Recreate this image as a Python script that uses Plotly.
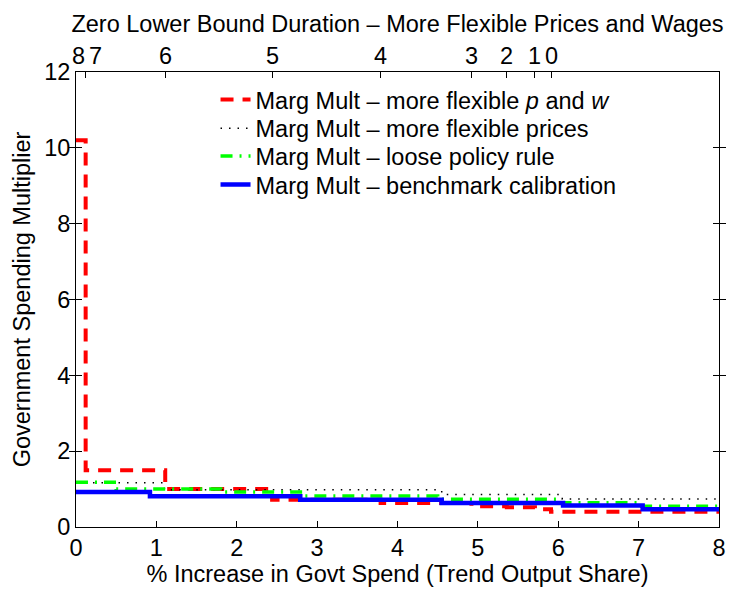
import plotly.graph_objects as go

# Step breakpoints (% increase in govt spend) and multiplier values
zlb_pos = [0.0, 0.12, 1.11, 2.44, 3.79, 4.92, 5.36, 5.71, 5.91]
zlb_labels = ["8", "7", "6", "5", "4", "3", "2", "1", "0"]

flex_pw_x = [0.0, 0.12, 1.11, 2.44, 3.79, 4.92, 5.36, 5.71, 5.91, 8.0]
flex_pw_y = [10.2, 1.5, 1.0, 0.72, 0.63, 0.55, 0.52, 0.47, 0.40, 0.40]

flex_p_x = [0.0, 1.1, 4.55, 6.05, 8.0]
flex_p_y = [1.17, 0.98, 0.86, 0.74, 0.74]

loose_x = [0.0, 0.5, 1.8, 2.85, 4.5, 6.0, 7.0, 8.0]
loose_y = [1.18, 1.0, 0.92, 0.82, 0.73, 0.64, 0.55, 0.55]

bench_x = [0.0, 0.92, 2.79, 4.55, 6.06, 7.05, 8.0]
bench_y = [0.92, 0.81, 0.72, 0.63, 0.57, 0.47, 0.47]

FONT = "Liberation Sans, Arial, Helvetica, sans-serif"
FS = 23.5
TXT = dict(family=FONT, size=FS, color="black")

series = [
    (flex_pw_x, flex_pw_y, "Marg Mult \u2013 more flexible <i>p</i> and <i>w</i>",
     dict(color="#ff0000", width=4, dash="13px,9px")),
    (flex_p_x, flex_p_y, "Marg Mult \u2013 more flexible prices",
     dict(color="#000000", width=1.5, dash="1.5px,7px")),
    (loose_x, loose_y, "Marg Mult \u2013 loose policy rule",
     dict(color="#00ff00", width=3.5, dash="12px,7px,2px,7px")),
    (bench_x, bench_y, "Marg Mult \u2013 benchmark calibration",
     dict(color="#0000ff", width=4.5)),
]
legend_ids = ["legend", "legend2", "legend3", "legend4"]
legend_rows = [0.939, 0.876, 0.815, 0.752]   # vertical centres of legend rows

fig = go.Figure()
for (xs, ys, name, line), lid in zip(series, legend_ids):
    fig.add_trace(go.Scatter(x=xs, y=ys, mode="lines", line_shape="hv",
                             line=line, name=name, legend=lid))

# carrier for the top (ZLB duration) axis
fig.add_trace(go.Scatter(x=zlb_pos, y=[None] * len(zlb_pos), xaxis="x2",
                         showlegend=False, hoverinfo="skip", mode="lines"))

legend_layout = {}
for lid, ly in zip(legend_ids, legend_rows):
    legend_layout[lid] = dict(x=0.217, y=ly, xanchor="left", yanchor="middle",
                              bgcolor="rgba(255,255,255,0)", borderwidth=0, font=TXT)

# duration labels above the top axis (first two nudged apart)
label_shift = [2, 10, 0, 0, 0, 0, 0, 0, 0]
annotations = [
    dict(x=xp, y=1, xref="x2", yref="paper", text=lab, showarrow=False,
         xanchor="center", yanchor="bottom", yshift=1, xshift=sh, font=TXT)
    for xp, lab, sh in zip(zlb_pos, zlb_labels, label_shift)
]

fig.update_layout(
    width=738, height=590,
    margin=dict(l=76, r=19, t=72, b=59),
    paper_bgcolor="white", plot_bgcolor="white",
    font=TXT,
    title=dict(text="Zero Lower Bound Duration \u2013 More Flexible Prices and Wages",
               x=0.5, xref="paper", y=1 - 24 / 590, yref="container",
               xanchor="center", yanchor="middle", font=TXT),
    xaxis=dict(range=[0, 8], tickvals=[0, 1, 2, 3, 4, 5, 6, 7, 8], tickfont=TXT,
               ticks="inside", ticklen=6, tickcolor="black", showgrid=False,
               zeroline=False, showline=True, linecolor="black", linewidth=1,
               mirror=False, tickangle=0,
               title=dict(text="% Increase in Govt Spend (Trend Output Share)",
                          font=TXT, standoff=0)),
    xaxis2=dict(range=[0, 8], overlaying="x", side="top", anchor="y",
                tickvals=zlb_pos, showticklabels=False,
                ticks="inside", ticklen=6, tickcolor="black", showgrid=False,
                zeroline=False, showline=True, linecolor="black", linewidth=1),
    yaxis=dict(range=[0, 12], tickvals=[0, 2, 4, 6, 8, 10, 12], tickfont=TXT,
               ticks="inside", ticklen=6, tickcolor="black", showgrid=False,
               zeroline=False, showline=True, linecolor="black", linewidth=1,
               mirror="allticks",
               title=dict(text="Government Spending Multiplier", font=TXT, standoff=6)),
    annotations=annotations,
    showlegend=True,
    **legend_layout,
)

fig.write_html("out.html")
